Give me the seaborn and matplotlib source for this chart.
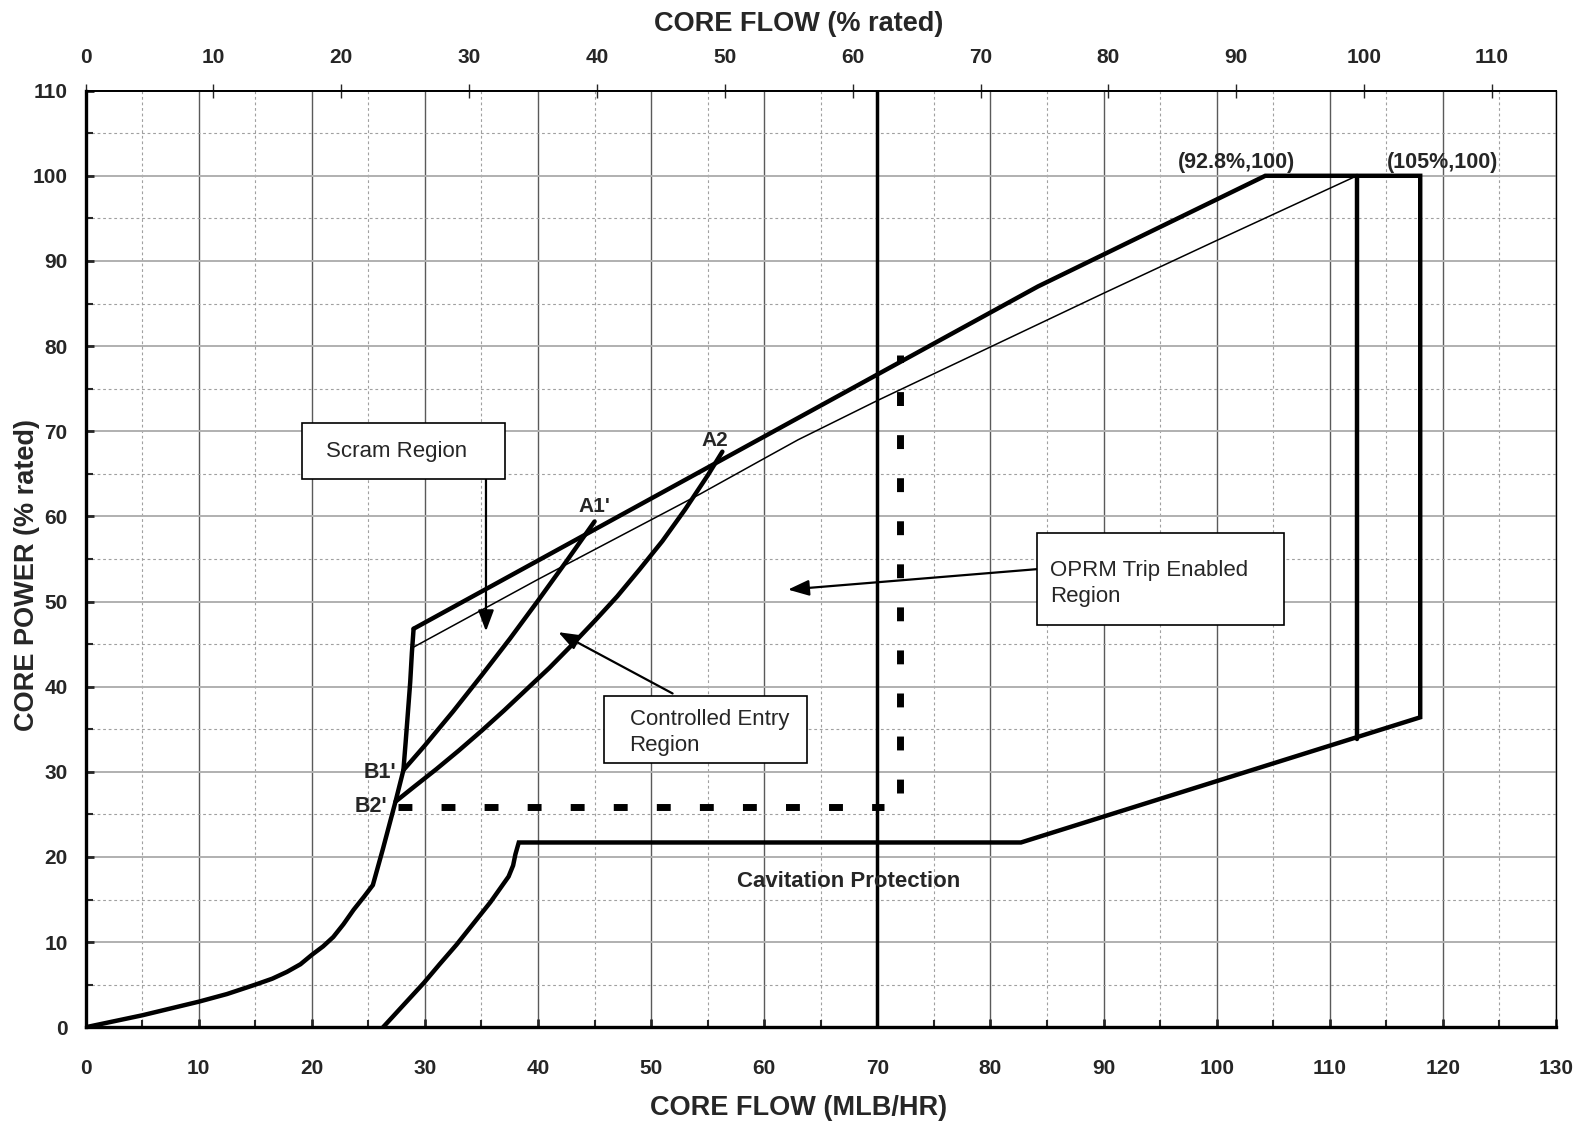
import matplotlib
matplotlib.use("Agg")
import matplotlib.pyplot as plt
import seaborn as sns
from matplotlib.patches import Rectangle

# values (flow in MLB/HR, power in % rated)
natcirc_flow = [0, 2.5, 5, 7.5, 10, 12.5, 15, 16.5, 17.8, 19, 20, 21, 21.9, 22.8, 23.7, 24.6, 25.4,
                26.3, 27.4, 28.1, 28.3, 28.5, 28.7, 28.85, 29.0]
natcirc_power = [0, 0.7, 1.4, 2.2, 3.0, 3.9, 5.0, 5.7, 6.5, 7.4, 8.5, 9.5, 10.6, 12.1, 13.8, 15.3, 16.7,
                 21.0, 26.5, 30.2, 33.5, 37.0, 40.5, 44.0, 46.8]

boundary_flow = [29.0, 84.2, 104.3, 118.0, 118.0, 82.7, 38.3, 38.0, 37.8, 37.4, 36.6, 35.8, 34.3,
                 32.8, 31.3, 29.9, 28.1, 26.3]
boundary_power = [46.8, 87.0, 100, 100, 36.4, 21.7, 21.7, 20.3, 19.0, 17.7, 16.2, 14.7, 12.2,
                  9.7, 7.4, 5.2, 2.6, 0]

setpoint_flow = [28.8, 40, 54.3, 60, 63, 66.5, 70, 80, 90, 100, 112.4]
setpoint_power = [44.5, 52.6, 62.6, 66.8, 69.0, 71.3, 73.6, 79.9, 86.2, 92.4, 100]

rated_flow = [112.4, 112.4]
rated_power = [100, 33.9]

a1_flow = [28.1, 30, 32.5, 35, 37.5, 40, 42.5, 45.0]
a1_power = [30.2, 33.1, 37.1, 41.3, 45.6, 50.1, 54.7, 59.4]

a2_flow = [27.4, 29, 31, 33, 35, 37, 39, 41, 43, 45, 47, 49, 51, 53, 55, 56.3]
a2_power = [26.5, 28.2, 30.3, 32.5, 34.8, 37.2, 39.7, 42.2, 44.9, 47.7, 50.6, 53.8, 57.1, 60.8, 64.8, 67.6]

min_flow_line = 70
dash_h_flow = [27.6, 70.6]
dash_h_power = [25.9, 25.9]
dash_v_flow = [72.0, 72.0]
dash_v_power = [27.5, 78.9]

flow_ticks = list(range(0, 131, 10))
power_ticks = list(range(0, 111, 10))
pct_ticks = list(range(0, 111, 10))
flow_max = 130
pct_max = 115  # top axis runs 0-115 % over 0-130 MLB/HR

sns.set_style("white")
plt.rcParams['font.family'] = ['Liberation Sans', 'DejaVu Sans']
plt.rcParams['font.weight'] = 'bold'
plt.rcParams['lines.scale_dashes'] = False

fig = plt.figure(figsize=(15.79, 11.26), dpi=100)
ax = fig.add_axes([0.0542, 0.0877, 0.9312, 0.8318])
ax.set_xlim(0, flow_max)
ax.set_ylim(0, 110)

# grid
ax.set_xticks(flow_ticks)
ax.set_xticks(range(5, 131, 10), minor=True)
ax.set_yticks(power_ticks)
ax.set_yticks(range(5, 111, 10), minor=True)
ax.grid(which='major', axis='x', color='#5a5a5a', lw=1.0, zorder=0)
ax.grid(which='major', axis='y', color='#b0b0b0', lw=1.4, zorder=0)
ax.grid(which='minor', color='#a0a0a0', ls=(0, (2, 2)), lw=0.8, zorder=0)
ax.set_axisbelow(True)

thick = 3.2
sns.lineplot(x=natcirc_flow, y=natcirc_power, sort=False, estimator=None, color='black', lw=thick, ax=ax)
sns.lineplot(x=boundary_flow, y=boundary_power, sort=False, estimator=None, color='black', lw=thick, ax=ax)
sns.lineplot(x=setpoint_flow, y=setpoint_power, sort=False, estimator=None, color='black', lw=1.1, ax=ax)
sns.lineplot(x=rated_flow, y=rated_power, sort=False, estimator=None, color='black', lw=thick, ax=ax)
sns.lineplot(x=a1_flow, y=a1_power, sort=False, estimator=None, color='black', lw=thick, ax=ax)
sns.lineplot(x=a2_flow, y=a2_power, sort=False, estimator=None, color='black', lw=thick, ax=ax)
ax.axvline(min_flow_line, color='black', lw=2.5)
ax.plot(dash_h_flow, dash_h_power, color='black', lw=5, linestyle=(0, (10, 21)))
ax.plot(dash_v_flow, dash_v_power, color='black', lw=5, linestyle=(0, (10, 21)))
for ln in ax.lines:
    ln.set_solid_joinstyle('miter')

# text boxes with arrows
def box(x0, x1, y0, y1, text, tx, ty):
    ax.add_patch(Rectangle((x0, y0), x1 - x0, y1 - y0, facecolor='white',
                           edgecolor='black', lw=1.2, zorder=5))
    ax.text(tx, ty, text, ha='left', va='center', fontsize=16, fontweight='normal',
            linespacing=1.3, zorder=6)

arrow = dict(arrowstyle='-|>,head_length=0.8,head_width=0.3', color='black', lw=1.6,
             mutation_scale=16, shrinkA=0, shrinkB=0)

box(19.1, 37.1, 64.4, 71.0, "Scram Region", 21.3, 67.6)
ax.annotate('', xy=(35.4, 46.5), xytext=(35.4, 64.4), arrowprops=arrow, zorder=4)

box(45.8, 63.8, 31.0, 38.9, "Controlled Entry\nRegion", 48.1, 34.6)
ax.annotate('', xy=(41.8, 46.4), xytext=(51.9, 39.2), arrowprops=arrow, zorder=4)

box(84.1, 106.0, 47.3, 58.0, "OPRM Trip Enabled\nRegion", 85.3, 52.1)
ax.annotate('', xy=(62.1, 51.4), xytext=(84.1, 53.8), arrowprops=arrow, zorder=4)

# point labels
ax.text(45.0, 61.2, "A1'", ha='center', va='center', fontsize=15)
ax.text(55.6, 68.9, "A2", ha='center', va='center', fontsize=15)
ax.text(27.5, 29.9, "B1'", ha='right', va='center', fontsize=15.5)
ax.text(26.7, 25.9, "B2'", ha='right', va='center', fontsize=15.5)
ax.text(101.8, 101.6, "(92.8%,100)", ha='center', va='center', fontsize=15.5)
ax.text(120.0, 101.6, "(105%,100)", ha='center', va='center', fontsize=15.5)
ax.text(67.5, 17.1, "Cavitation Protection", ha='center', va='center', fontsize=16)

# axes styling
for side, w in [('left', 2.4), ('bottom', 2.4), ('top', 1.4), ('right', 1.0)]:
    ax.spines[side].set_visible(True)
    ax.spines[side].set_linewidth(w)
    ax.spines[side].set_color('black')
ax.tick_params(axis='x', which='major', direction='in', length=6, width=2, labelsize=15, pad=23, top=False, bottom=True)
ax.tick_params(axis='x', which='minor', direction='in', length=5, width=1.5, top=False, bottom=True)
ax.tick_params(axis='y', which='major', direction='in', length=6, width=2, labelsize=15, pad=13, left=True)
ax.tick_params(axis='y', which='minor', direction='in', length=5, width=1.5, left=True)

secax = ax.secondary_xaxis('top', functions=(lambda x: x * pct_max / flow_max,
                                             lambda p: p * flow_max / pct_max))
secax.set_xticks(pct_ticks)
secax.tick_params(direction='inout', length=10, width=1, labelsize=15, pad=12)
secax.spines['top'].set_linewidth(1.4)

fig.text(798.6 / 1579, 1 - 1108 / 1126, "CORE FLOW (MLB/HR)", ha='center', va='center', fontsize=19.5)
fig.text(798.6 / 1579, 1 - 24 / 1126, "CORE FLOW (% rated)", ha='center', va='center', fontsize=19.5)
fig.text(27.2 / 1579, 1 - 575 / 1126, "CORE POWER (% rated)", ha='center', va='center',
         rotation=90, fontsize=19.5)

fig.savefig("out.png", dpi=100, facecolor='white')
